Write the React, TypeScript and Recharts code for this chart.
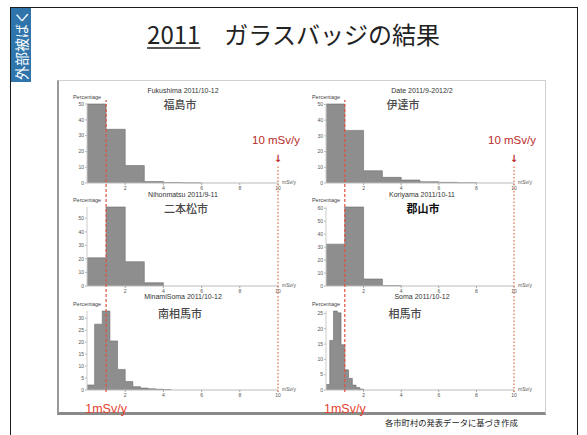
import React from "react";
import { Area, ComposedChart, Label, ReferenceLine, XAxis, YAxis } from "recharts";

// 個人線量の分布（% / 線量区間）。区間幅は mSv/y
const FUKUSHIMA = [50, 34, 11, 0.9, 0.3, 0.1];
const DATE = [50.3, 33.5, 7.8, 3.6, 1.9, 0.8, 0.4, 0.2];
const NIHONMATSU = [20.8, 58.3, 17.9, 2.4];
const KORIYAMA = [32.3, 61, 5.4, 0.3];
const MINAMISOMA = [2.1, 27.5, 33, 20.5, 8.6, 3.5, 1.4, 0.8, 0.5, 0.3, 0.2];
const SOMA = [1.8, 16.2, 25.8, 25.2, 14.8, 6.6, 3.8, 1.6, 0.8, 0.3];

const BIN_1 = 1;
const BIN_MINAMISOMA = 0.4;
const BIN_SOMA = 0.2;

const X_TICKS = [2, 4, 6, 8, 10];
const TICKS_50 = [0, 10, 20, 30, 40, 50];
const TICKS_60 = [0, 10, 20, 30, 40, 50, 60];
const TICKS_30 = [0, 5, 10, 15, 20, 25, 30];
const TICKS_25 = [0, 5, 10, 15, 20, 25];

// 目安線
const DOSE_LOW = 1;
const DOSE_HIGH = 10;
const DOSE_MARKS = [
  { x: DOSE_LOW, y: 0 },
  { x: DOSE_HIGH, y: 1 },
];

const JP = "'Noto Sans CJK JP', 'Noto Sans', sans-serif";
const LAT = "'Liberation Sans', Arial, sans-serif";

const CHART_W = 240;
const Y_W = 8;
const PAD_TOP = 14;
const AXIS_H = 14;

const COLS = [
  { left: 60, plotLeft: 87, plotRight: 278, titleX: 183 },
  { left: 300, plotLeft: 326, plotRight: 514, titleX: 422 },
];
const ROWS = [
  { plotTop: 104, plotBottom: 183, enY: 90, jaY: 104 },
  { plotTop: 207, plotBottom: 286, enY: 194, jaY: 208 },
  { plotTop: 311, plotBottom: 390, enY: 296, jaY: 313 },
];

type Panel = {
  en: string;
  ja: string;
  values: number[];
  bin: number;
  yTicks: number[];
  col: number;
  row: number;
  jaDx: number;
  bold?: boolean;
};

const PANELS: Panel[] = [
  { en: "Fukushima 2011/10-12", ja: "福島市", values: FUKUSHIMA, bin: BIN_1, yTicks: TICKS_50, col: 0, row: 0, jaDx: -3 },
  { en: "Date 2011/9-2012/2", ja: "伊達市", values: DATE, bin: BIN_1, yTicks: TICKS_50, col: 1, row: 0, jaDx: -19 },
  { en: "Nihonmatsu 2011/9-11", ja: "二本松市", values: NIHONMATSU, bin: BIN_1, yTicks: TICKS_50, col: 0, row: 1, jaDx: 3 },
  { en: "Koriyama 2011/10-11", ja: "郡山市", values: KORIYAMA, bin: BIN_1, yTicks: TICKS_60, col: 1, row: 1, jaDx: 1, bold: true },
  { en: "MinamiSoma 2011/10-12", ja: "南相馬市", values: MINAMISOMA, bin: BIN_MINAMISOMA, yTicks: TICKS_30, col: 0, row: 2, jaDx: -3 },
  { en: "Soma 2011/10-12", ja: "相馬市", values: SOMA, bin: BIN_SOMA, yTicks: TICKS_25, col: 1, row: 2, jaDx: -17 },
];

// 区間の左端 + 値、最後に右端で 0 に落とす（stepAfter でヒストグラム）
const toSteps = (values: number[], bin: number) =>
  values
    .map((v, i) => ({ x: +(i * bin).toFixed(2), y: v }))
    .concat({ x: +(values.length * bin).toFixed(2), y: 0 });

const percentLabel = (props: any) => {
  const { x, y, width } = props.viewBox;
  return (
    <text x={x + width} y={y - 5} textAnchor="middle" fontSize={5.5} fill="#444" fontFamily={LAT}>
      Percentage
    </text>
  );
};

const unitLabel = (props: any) => {
  const { x, y, width } = props.viewBox;
  return (
    <text x={x + width + 4} y={y + 1} fontSize={5} fill="#555" fontFamily={LAT}>
      mSv/y
    </text>
  );
};

function Histogram({ p }: { p: Panel }) {
  const col = COLS[p.col];
  const row = ROWS[p.row];
  const plotH = row.plotBottom - row.plotTop;
  return (
    <div style={{ position: "absolute", left: col.left, top: row.plotTop - PAD_TOP }}>
      <ComposedChart
        width={CHART_W}
        height={plotH + PAD_TOP + AXIS_H}
        data={toSteps(p.values, p.bin)}
        margin={{ top: PAD_TOP, right: col.left + CHART_W - col.plotRight, bottom: 0, left: col.plotLeft - col.left - Y_W }}
      >
        <XAxis
          dataKey="x"
          type="number"
          domain={[0, 10]}
          ticks={X_TICKS}
          interval={0}
          height={AXIS_H}
          tickSize={2}
          tickMargin={1}
          tick={{ fontSize: 5, fill: "#555", fontFamily: LAT }}
          tickLine={{ stroke: "#aaa" }}
          axisLine={{ stroke: "#bbb" }}
        >
          <Label content={unitLabel} />
        </XAxis>
        <YAxis
          type="number"
          domain={[0, "dataMax"]}
          ticks={p.yTicks}
          interval={0}
          width={Y_W}
          tickSize={2}
          tickMargin={1}
          tick={{ fontSize: 5, fill: "#555", fontFamily: LAT }}
          tickLine={{ stroke: "#bbb" }}
          axisLine={{ stroke: "#ccc" }}
        >
          <Label content={percentLabel} />
        </YAxis>
        <Area
          type="stepAfter"
          dataKey="y"
          stroke="#6c6c6c"
          strokeWidth={0.6}
          fill="#8e8e8e"
          fillOpacity={1}
          dot={false}
          activeDot={false}
          isAnimationActive={false}
        />
      </ComposedChart>
      <div
        style={{
          position: "absolute",
          left: col.titleX - col.left,
          top: row.enY - row.plotTop + PAD_TOP,
          transform: "translate(-50%, -50%)",
          fontFamily: LAT,
          fontSize: 7,
          color: "#333",
          whiteSpace: "nowrap",
        }}
      >
        {p.en}
      </div>
      <div
        style={{
          position: "absolute",
          left: col.titleX - col.left + p.jaDx,
          top: row.jaY - row.plotTop + PAD_TOP,
          transform: "translate(-50%, -50%)",
          fontFamily: JP,
          fontSize: 11,
          fontWeight: p.bold ? 700 : 500,
          color: p.bold ? "#111" : "#4a4a4a",
          whiteSpace: "nowrap",
        }}
      >
        {p.ja}
      </div>
    </div>
  );
}

const lowLabel = (props: any) => {
  const { x, y, height } = props.viewBox;
  return (
    <text x={x} y={y + height + 21} textAnchor="middle" fontSize={12.5} fill="#e4432f" fontFamily={LAT}>
      1mSv/y
    </text>
  );
};

const highLabel = (props: any) => {
  const { x, y } = props.viewBox;
  return (
    <g>
      <text x={x - 2} y={y - 21} textAnchor="middle" fontSize={11.5} fill="#b82a28" fontFamily={LAT}>
        10 mSv/y
      </text>
      <text
        x={x}
        y={y - 3}
        textAnchor="middle"
        fontSize={10}
        fontWeight={700}
        fill="#b82a28"
        fontFamily="'DejaVu Sans', sans-serif"
      >
        ↓
      </text>
    </g>
  );
};

// 1 mSv/y と 10 mSv/y の縦線（列ごとに全段を貫く）
function DoseLine({ col, dose, top, lineTop }: { col: (typeof COLS)[number]; dose: number; top: number; lineTop: number }) {
  const lineBottom = 392;
  const bottom = 422;
  const low = dose === DOSE_LOW;
  return (
    <div style={{ position: "absolute", left: col.left, top }}>
      <ComposedChart
        width={CHART_W}
        height={bottom - top}
        data={DOSE_MARKS}
        margin={{ top: lineTop - top, right: col.left + CHART_W - col.plotRight, bottom: bottom - lineBottom, left: col.plotLeft - col.left }}
      >
        <XAxis dataKey="x" type="number" domain={[0, 10]} allowDataOverflow hide />
        <YAxis dataKey="y" type="number" domain={[0, 1]} allowDataOverflow hide />
        <Area dataKey="y" stroke="none" fill="none" dot={false} activeDot={false} isAnimationActive={false} />
        <ReferenceLine
          x={dose}
          ifOverflow="visible"
          stroke={low ? "#e2503f" : "#dd7a52"}
          strokeWidth={low ? 1.2 : 1.3}
          strokeDasharray={low ? "3 2" : "1.5 2"}
        >
          <Label content={low ? lowLabel : highLabel} />
        </ReferenceLine>
      </ComposedChart>
    </div>
  );
}

export default function App() {
  return (
    <div
      style={{
        position: "absolute",
        left: 0,
        top: 0,
        width: 587,
        height: 435,
        overflow: "hidden",
        background: "#fff",
        fontFamily: JP,
      }}
    >
      <div
        style={{
          position: "absolute",
          left: 10,
          top: 7,
          width: 568,
          height: 460,
          border: "1.5px solid #1c1c1c",
          boxSizing: "border-box",
        }}
      />
      <div style={{ position: "absolute", left: 11, top: 8, width: 20, height: 74, background: "#2f74ab" }} />
      <div
        style={{
          position: "absolute",
          left: 21 - 38,
          top: 45 - 10,
          width: 76,
          height: 20,
          lineHeight: "20px",
          transform: "rotate(-90deg)",
          color: "#fff",
          fontSize: 14,
          textAlign: "center",
          whiteSpace: "nowrap",
        }}
      >
        外部被ばく
      </div>
      <div
        style={{
          position: "absolute",
          left: 0,
          top: 18,
          width: 587,
          textAlign: "center",
          fontSize: 24,
          lineHeight: "32px",
          color: "#222",
          whiteSpace: "nowrap",
        }}
      >
        <span style={{ textDecoration: "underline", textDecorationColor: "#555", textDecorationThickness: 2, textUnderlineOffset: 3 }}>
          2011
        </span>
        {"　ガラスバッジの結果"}
      </div>

      <div
        style={{
          position: "absolute",
          left: 57,
          top: 80,
          width: 489,
          height: 335,
          boxSizing: "border-box",
          borderTop: "1px solid #cfcfcf",
          borderRight: "1px solid #cfcfcf",
          borderLeft: "2px solid #9a9a9a",
          borderBottom: "3px solid #8a8a8a",
        }}
      />

      {PANELS.map((p) => (
        <Histogram key={p.en} p={p} />
      ))}

      {COLS.map((c, i) => (
        <React.Fragment key={i}>
          <DoseLine col={c} dose={DOSE_LOW} top={84} lineTop={100} />
          <DoseLine col={c} dose={DOSE_HIGH} top={120} lineTop={165} />
        </React.Fragment>
      ))}

      <div
        style={{
          position: "absolute",
          left: 385,
          top: 416,
          fontSize: 8.3,
          lineHeight: "12px",
          color: "#222",
          whiteSpace: "nowrap",
        }}
      >
        各市町村の発表データに基づき作成
      </div>
    </div>
  );
}
